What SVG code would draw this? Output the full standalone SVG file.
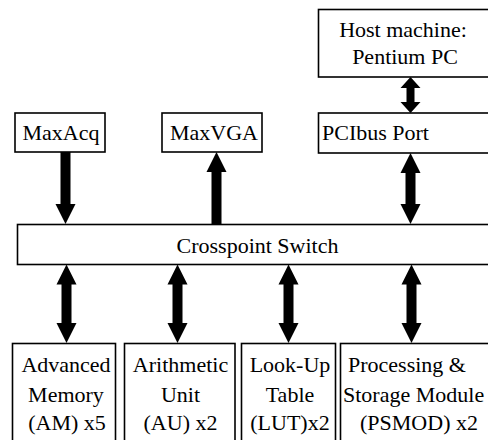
<svg xmlns="http://www.w3.org/2000/svg" width="488" height="440" viewBox="0 0 488 440">
  <style>
    .box { fill: #ffffff; stroke: #000000; stroke-width: 1.6; }
    .lbl { font-size: 22px; fill: #000000; }
    .mid { text-anchor: middle; }
    .arr { fill: #000000; stroke: none; }
  </style>
  <rect width="488" height="440" fill="#ffffff"/>

  <!-- connectors: thick block arrows -->
  <g id="connectors">
    <path class="arr" d="M410.5 77 L420.5 88 L414.5 88 L414.5 102 L420.5 102 L410.5 113 L400.5 102 L406.5 102 L406.5 88 L400.5 88 Z"/>
    <path class="arr" d="M60.5 152 L70.5 152 L70.5 204 L75.5 204 L65.5 224 L55.5 204 L60.5 204 Z"/>
    <path class="arr" d="M216.5 152 L226.5 172 L221.5 172 L221.5 224 L211.5 224 L211.5 172 L206.5 172 Z"/>
    <path class="arr" d="M410.5 153 L420.5 173 L415.5 173 L415.5 204 L420.5 204 L410.5 224 L400.5 204 L405.5 204 L405.5 173 L400.5 173 Z"/>
    <path class="arr" d="M66.5 264.5 L76.5 284.5 L71.5 284.5 L71.5 323 L76.5 323 L66.5 343 L56.5 323 L61.5 323 L61.5 284.5 L56.5 284.5 Z"/>
    <path class="arr" d="M177.5 264.5 L187.5 284.5 L182.5 284.5 L182.5 323 L187.5 323 L177.5 343 L167.5 323 L172.5 323 L172.5 284.5 L167.5 284.5 Z"/>
    <path class="arr" d="M288.5 264.5 L298.5 284.5 L293.5 284.5 L293.5 323 L298.5 323 L288.5 343 L278.5 323 L283.5 323 L283.5 284.5 L278.5 284.5 Z"/>
    <path class="arr" d="M411.5 264.5 L421.5 284.5 L416.5 284.5 L416.5 323 L421.5 323 L411.5 343 L401.5 323 L406.5 323 L406.5 284.5 L401.5 284.5 Z"/>
  </g>

  <g font-family="Liberation Serif, Times New Roman, serif">
  <g id="host">
    <rect class="box" x="318.5" y="9.5" width="180" height="67.5"/>
    <text class="lbl mid" x="403" y="37">Host machine:</text>
    <text class="lbl mid" x="405" y="64">Pentium PC</text>
  </g>

  <g id="maxacq">
    <rect class="box" x="15" y="113" width="90" height="39"/>
    <text class="lbl mid" x="61" y="140">MaxAcq</text>
  </g>

  <g id="maxvga">
    <rect class="box" x="162" y="113" width="100" height="39"/>
    <text class="lbl mid" x="214" y="140">MaxVGA</text>
  </g>

  <g id="pcibus">
    <rect class="box" x="318.5" y="113" width="180" height="40"/>
    <text class="lbl" x="322" y="140">PCIbus Port</text>
  </g>

  <g id="crosspoint">
    <rect class="box" x="17.5" y="224.5" width="480" height="40"/>
    <text class="lbl mid" x="257.5" y="253">Crosspoint Switch</text>
  </g>

  <g id="am">
    <rect class="box" x="12.5" y="343.5" width="103" height="110"/>
    <text class="lbl mid" x="66" y="371.5">Advanced</text>
    <text class="lbl mid" x="66" y="401.5">Memory</text>
    <text class="lbl mid" x="67" y="430">(AM) x5</text>
  </g>

  <g id="au">
    <rect class="box" x="124.5" y="343.5" width="110.5" height="110"/>
    <text class="lbl mid" x="180.5" y="371.5">Arithmetic</text>
    <text class="lbl mid" x="180.5" y="401.5">Unit</text>
    <text class="lbl mid" x="180.5" y="430">(AU) x2</text>
  </g>

  <g id="lut">
    <rect class="box" x="241.5" y="343.5" width="94" height="110"/>
    <text class="lbl mid" x="290" y="371.5">Look-Up</text>
    <text class="lbl mid" x="290" y="401.5">Table</text>
    <text class="lbl mid" x="290" y="430">(LUT)x2</text>
  </g>

  <g id="psmod">
    <rect class="box" x="340.5" y="343.5" width="160" height="110"/>
    <text class="lbl mid" x="407" y="371.5">Processing &amp;</text>
    <text class="lbl" x="343" y="401.5">Storage Module</text>
    <text class="lbl mid" x="419" y="430">(PSMOD) x2</text>
  </g>
  </g>
</svg>
